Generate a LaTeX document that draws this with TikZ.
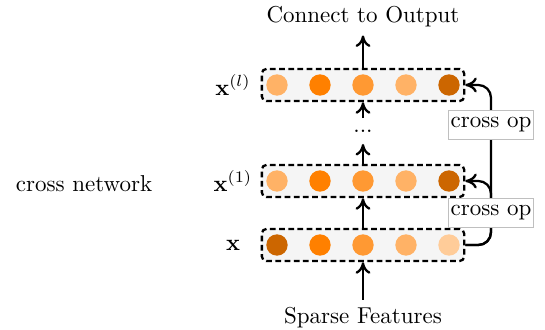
\documentclass[tikz,border=0pt]{standalone}
\usepackage{amsmath}
\usetikzlibrary{arrows.meta}
\definecolor{burnt}{HTML}{CC6600}
\definecolor{vivid}{HTML}{FF8000}
\definecolor{warm}{HTML}{FF9933}
\definecolor{soft}{HTML}{FFB266}
\definecolor{pale}{HTML}{FFCC99}
\tikzstyle{unit}=[circle,minimum size=9.3pt,inner sep=0pt]
\tikzstyle{layer}=[draw,line width=1pt,dash pattern=on 2.5pt off 1.5pt,rounded corners=2pt,fill=black!4,minimum width=88pt,minimum height=14pt]
\tikzstyle{opbox}=[draw=black!25,fill=white,inner xsep=1pt,inner ysep=3.3pt]
\tikzstyle{link}=[-{To[length=5pt,width=6.5pt]},line width=1pt]

\begin{document}
\begin{tikzpicture}[x=0.435pt,y=-0.435pt]
\useasboundingbox (0,0) rectangle (545,330);
\node[layer] at (363,245) (x0) {};
\node[layer] at (363,181) (x1) {};
\node[layer] at (363,85) (xl) {};
\node[unit,fill=burnt] at (277,245) (x0a) {};
\node[unit,fill=vivid] at (320,245) (x0b) {};
\node[unit,fill=warm] at (363,245) (x0c) {};
\node[unit,fill=soft] at (406,245) (x0d) {};
\node[unit,fill=pale] at (449,245) (x0e) {};
\node[unit,fill=soft] at (277,181) (x1a) {};
\node[unit,fill=vivid] at (320,181) (x1b) {};
\node[unit,fill=warm] at (363,181) (x1c) {};
\node[unit,fill=soft] at (406,181) (x1d) {};
\node[unit,fill=burnt] at (449,181) (x1e) {};
\node[unit,fill=soft] at (277,85) (xla) {};
\node[unit,fill=vivid] at (320,85) (xlb) {};
\node[unit,fill=warm] at (363,85) (xlc) {};
\node[unit,fill=soft] at (406,85) (xld) {};
\node[unit,fill=burnt] at (449,85) (xle) {};
\node at (233,245) (lx0) {$\mathbf{x}$};
\node at (233,181) (lx1) {$\mathbf{x}^{(1)}$};
\node at (233,85) (lxl) {$\mathbf{x}^{(l)}$};
\node at (84,184) (net) {cross network};
\node[minimum height=10.9pt] at (363,131) (dots) {...};
\node at (363,17) (out) {Connect to Output};
\node at (363,318) (in) {Sparse Features};
\coordinate (bend) at (491,245);
\draw[link] (in) -- (x0);
\draw[link] (x0) -- (x1);
\draw[link] (x1) -- (dots);
\draw[link] (dots) -- (xl);
\draw[link] (xl) -- (out);
\draw[link,rounded corners=5.5pt] (x0.east) -- (bend) |- (x1.east);
\draw[link,rounded corners=5.5pt] (x0.east) -- (bend) |- (xl.east);
\node[opbox] at (491,213) (op1) {cross op};
\node[opbox] at (491,125) (op2) {cross op};
\end{tikzpicture}
\end{document}
